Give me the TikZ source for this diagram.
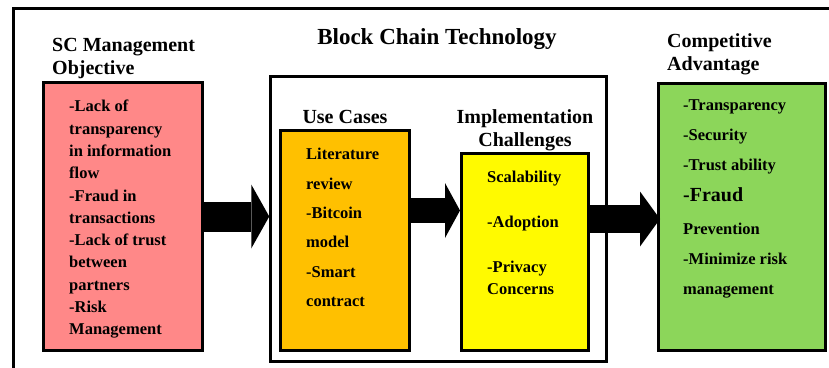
\documentclass[tikz,border=0pt]{standalone}
\usepackage{fontspec}
\setmainfont{Liberation Serif}
\usetikzlibrary{arrows.meta,positioning}

\definecolor{pinkfill}{RGB}{255,136,136}
\definecolor{orangefill}{RGB}{255,192,0}
\definecolor{yellowfill}{RGB}{255,250,0}
\definecolor{greenfill}{RGB}{140,214,90}

\begin{document}
\begin{tikzpicture}[
  x=1pt, y=-1pt,
  box/.style={rectangle, draw, line width=3pt, inner sep=0pt},
  heading/.style={font=\bfseries\fontsize{20}{23}\selectfont, inner sep=0pt},
  body/.style={font=\bfseries\fontsize{16.5}{22.3}\selectfont, align=left, inner sep=0pt, anchor=north west},
  bigarrow/.style n args={3}{line width=#1, -{Triangle[width=#2, length=#3, line width=0pt]}},
]
\useasboundingbox (0,0) rectangle (829,367);

% outer frame, cut off at the right and bottom
\draw[line width=3pt] (13,375) -- (13,8.5) -- (840,8.5);

\node[draw, line width=2.5pt, minimum width=336pt, minimum height=285pt] (bct) at (438.5,219) {};
\node[font=\bfseries\fontsize{23}{26}\selectfont, inner sep=0pt] (bcthead) at (437,39.5) {Block Chain Technology};

\node[box, fill=pinkfill, minimum width=159pt, minimum height=268pt] (sc) at (123,216.5) {};
\node[box, fill=orangefill, minimum width=129pt, minimum height=220pt] (uc) at (345,240.5) {};
\node[box, fill=yellowfill, minimum width=127pt, minimum height=197pt] (ic) at (525,252) {};
\node[box, fill=greenfill, minimum width=167pt, minimum height=267pt] (ca) at (742,217) {};

% headings
\node[heading, align=left, anchor=north west] (schead) at (52,38) {SC Management\\Objective};
\node[heading, above=5pt of uc] (uchead) {Use Cases};
\node[heading, align=center, above=1pt of ic] (ichead) {Implementation\\Challenges};
\node[heading, align=left, anchor=north west] (cahead) at (667,33) {Competitive\\Advantage};

% box contents
\node[body] (sctxt) at (69,100) {-Lack of\\transparency\\in information\\flow\\-Fraud in\\transactions\\-Lack of trust\\between\\partners\\-Risk\\Management};
\node[body, font=\bfseries\fontsize{16.5}{29.3}\selectfont] (uctxt) at (306,148.2) {Literature\\review\\-Bitcoin\\model\\-Smart\\contract};
\node[body, font=\bfseries\fontsize{16.5}{22.4}\selectfont] (ictxt) at (487,171.2) {Scalability\\[22.4pt]-Adoption\\[22.4pt]-Privacy\\Concerns};
\node[body, font=\bfseries\fontsize{16.5}{30}\selectfont] (catxt) at (683,99.2) {-Transparency\\-Security\\-Trust ability\\[1pt]{\fontsize{20}{30}\selectfont -Fraud}\\[3pt]Prevention\\-Minimize risk\\management};

% block arrows
\coordinate (a2) at ([yshift=30pt]uc.east);
\coordinate (a3) at ([yshift=-2pt]ca.west);
\draw[bigarrow={30pt}{64pt}{18pt}] (sc.east) -- (sc.east -| bct.west);
\draw[bigarrow={25pt}{55pt}{15pt}] (a2) -- (a2 -| ic.west);
\draw[bigarrow={28pt}{55pt}{20pt}] (a3 -| ic.east) -- ([xshift=3pt]a3);
\end{tikzpicture}
\end{document}
